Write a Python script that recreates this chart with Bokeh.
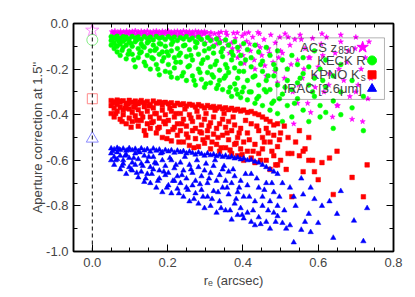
from bokeh.plotting import figure
from bokeh.models import (LinearAxis, Range1d, Label, BoxAnnotation, Span, PrintfTickFormatter,
                          FixedTicker, CustomJSTickFormatter)
from bokeh.embed import file_html
from bokeh.resources import INLINE

# ---------------- data ----------------
acs_x = [0.052,0.060,0.068,0.075,0.083,0.091,0.099,0.106,0.114,0.122,0.130,0.138,0.146,0.154,0.162,0.170,
         0.178,0.186,0.194,0.202,0.210,0.218,0.226,0.234,0.242,0.250,0.258,0.266,0.274,0.282,0.290,0.298,
         0.056,0.064,0.072,0.080,0.088,0.096,0.104,0.112,0.120,0.128,0.136,0.144,0.152,0.160,0.168,0.176,
         0.184,0.192,0.200,0.208,0.216,0.224,0.232,0.240,0.248,0.256,0.264,0.272,0.280,0.288,0.296,
         0.305,0.312,0.318,0.325,0.330,0.336,0.342,0.348,0.352,0.358,0.364,0.370,0.375,0.380,0.386,0.392,
         0.398,0.404,0.410,0.415,0.420,0.426,0.432,0.438,0.444,0.450,0.456,0.462,0.468,0.474,0.480,0.486,
         0.492,0.498,0.505,0.512,0.518,0.525,0.532,0.538,0.545,0.552,0.558,0.565,0.572,0.578,0.585,0.592,
         0.600,0.608,0.615,0.622,0.630,0.638,0.645,0.652,0.660,0.668,0.676,0.684,0.690,0.698,0.706,0.714,
         0.718,0.725,0.732,0.740,0.535,0.580,0.500,0.575,0.545,0.650,0.315,0.335,0.355,0.385,0.405,0.440,
         0.058,0.074,0.090,0.106,0.122,0.138,0.154,0.170,0.186,0.202,0.218,0.234,0.250,0.266,0.282,0.298,
         0.230,0.260,0.285,0.300,0.320,0.340,0.360,0.372,0.388,0.400,0.418,0.430,0.446,0.458,0.470,0.485,
         0.495,0.510,0.528,0.548,0.562,0.590,0.612,0.628,0.655,0.680,0.700,0.735,0.555,0.520,0.610,0.660,0.700]
acs_y = [-0.036,-0.033,-0.038,-0.034,-0.037,-0.033,-0.036,-0.035,-0.032,-0.037,-0.034,-0.036,-0.033,-0.038,-0.035,-0.033,
         -0.037,-0.034,-0.036,-0.033,-0.038,-0.035,-0.034,-0.037,-0.033,-0.036,-0.035,-0.038,-0.034,-0.036,-0.037,-0.035,
         -0.047,-0.050,-0.046,-0.049,-0.052,-0.047,-0.050,-0.046,-0.051,-0.048,-0.045,-0.050,-0.047,-0.052,-0.046,-0.049,
         -0.051,-0.047,-0.045,-0.050,-0.048,-0.052,-0.046,-0.049,-0.053,-0.047,-0.050,-0.055,-0.048,-0.052,-0.046,
         -0.040,-0.055,-0.070,-0.045,-0.090,-0.060,-0.038,-0.110,-0.075,-0.050,-0.130,-0.085,-0.042,-0.065,-0.150,-0.100,
         -0.055,-0.175,-0.078,-0.040,-0.120,-0.060,-0.200,-0.095,-0.045,-0.140,-0.070,-0.230,-0.110,-0.050,-0.170,-0.085,
         -0.260,-0.060,-0.130,-0.045,-0.200,-0.095,-0.300,-0.070,-0.160,-0.050,-0.240,-0.110,-0.350,-0.150,-0.065,-0.280,
         -0.190,-0.090,-0.300,-0.060,-0.220,-0.410,-0.130,-0.360,-0.080,-0.250,-0.170,-0.320,-0.420,-0.110,-0.270,-0.200,
         -0.430,-0.150,-0.330,-0.240,-0.440,-0.390,-0.120,-0.150,-0.350,-0.360,-0.040,-0.042,-0.038,-0.041,-0.044,-0.039,
         -0.042,-0.041,-0.043,-0.041,-0.042,-0.040,-0.043,-0.041,-0.042,-0.040,-0.043,-0.041,-0.042,-0.044,-0.041,-0.043,
         -0.060,-0.065,-0.070,-0.085,-0.100,-0.075,-0.095,-0.110,-0.120,-0.140,-0.090,-0.160,-0.105,-0.185,-0.130,-0.210,
         -0.150,-0.240,-0.180,-0.270,-0.200,-0.230,-0.140,-0.270,-0.200,-0.120,-0.300,-0.080,-0.070,-0.060,-0.045,-0.050,-0.060]

keck_x = [0.050,0.050,0.050,0.058,0.058,0.058,0.066,0.066,0.066,0.066,0.074,0.074,0.074,0.082,0.082,0.082,
          0.090,0.090,0.090,0.098,0.098,0.098,0.106,0.106,0.106,0.114,0.114,0.114,0.122,0.122,0.122,
          0.130,0.130,0.130,0.138,0.138,0.138,0.146,0.146,0.146,0.154,0.154,0.154,0.162,0.162,0.162,
          0.170,0.170,0.170,0.178,0.178,0.178,0.178,0.186,0.186,0.186,0.194,0.194,0.194,0.202,0.202,0.202,
          0.210,0.210,0.210,0.210,0.218,0.218,0.218,0.226,0.226,0.226,0.234,0.234,0.234,0.242,0.242,0.242,
          0.250,0.250,0.250,0.258,0.258,0.258,0.266,0.266,0.266,0.274,0.274,0.274,0.282,0.282,0.282,
          0.290,0.290,0.290,0.298,0.298,0.298,0.306,0.306,0.306,0.314,0.314,0.314,0.322,0.322,0.322,
          0.330,0.330,0.330,0.338,0.338,0.338,0.346,0.346,0.346,0.354,0.354,0.354,0.362,0.362,0.362,
          0.370,0.370,0.370,0.378,0.378,0.378,0.386,0.386,0.386,0.394,0.394,0.394,0.402,0.402,0.402,
          0.412,0.412,0.412,0.422,0.422,0.422,0.432,0.432,0.432,0.442,0.442,0.442,0.452,0.452,0.452,
          0.462,0.462,0.462,0.472,0.472,0.472,0.482,0.482,0.482,0.492,0.492,0.492,0.505,0.505,0.505,
          0.518,0.518,0.518,0.530,0.530,0.530,0.545,0.545,0.545,0.560,0.560,0.560,0.575,0.575,0.575,
          0.590,0.590,0.590,0.605,0.605,0.605,0.620,0.620,0.620,0.640,0.640,0.640,0.660,0.660,0.660,
          0.690,0.690,0.720,0.720,
          0.054,0.062,0.071,0.079,0.087,0.095,0.103,0.110,0.118,0.126,0.134,0.142,0.150,0.158,0.166,0.174,
          0.182,0.190,0.198,0.206,0.214,0.222,0.230,0.238,0.246,0.254,0.262,0.270,0.278,0.286,0.294,0.302,
          0.310,0.318,0.326,0.334,0.342,0.350,0.358,0.366,0.374,0.382,0.390,0.398,0.407,0.417,0.427,0.437,
          0.447,0.457,0.467,0.477,0.487,0.497,0.512,0.537,0.552,0.585,0.612]
keck_y = [-0.058,-0.075,-0.095,-0.062,-0.085,-0.110,-0.056,-0.070,-0.100,-0.125,-0.065,-0.090,-0.140,-0.058,-0.078,-0.105,
          -0.060,-0.095,-0.155,-0.068,-0.082,-0.120,-0.057,-0.100,-0.135,-0.064,-0.080,-0.190,-0.059,-0.110,-0.150,
          -0.070,-0.090,-0.125,-0.058,-0.105,-0.170,-0.066,-0.085,-0.140,-0.060,-0.120,-0.200,-0.072,-0.095,-0.155,
          -0.057,-0.110,-0.180,-0.065,-0.088,-0.135,-0.225,-0.061,-0.125,-0.165,-0.070,-0.100,-0.210,-0.058,-0.140,-0.180,
          -0.066,-0.092,-0.120,-0.235,-0.060,-0.150,-0.195,-0.075,-0.110,-0.240,-0.062,-0.130,-0.170,-0.068,-0.098,-0.215,
          -0.058,-0.145,-0.250,-0.072,-0.115,-0.185,-0.064,-0.160,-0.230,-0.080,-0.105,-0.270,-0.060,-0.135,-0.200,
          -0.070,-0.175,-0.245,-0.090,-0.120,-0.280,-0.062,-0.150,-0.215,-0.075,-0.190,-0.260,-0.100,-0.130,-0.235,
          -0.068,-0.165,-0.285,-0.085,-0.205,-0.250,-0.110,-0.145,-0.290,-0.072,-0.180,-0.230,-0.095,-0.215,-0.300,
          -0.125,-0.160,-0.320,-0.080,-0.195,-0.265,-0.105,-0.240,-0.310,-0.140,-0.175,-0.325,-0.088,-0.210,-0.280,
          -0.115,-0.250,-0.335,-0.150,-0.190,-0.300,-0.095,-0.230,-0.350,-0.125,-0.270,-0.320,-0.165,-0.210,-0.360,
          -0.105,-0.250,-0.300,-0.140,-0.290,-0.380,-0.180,-0.230,-0.340,-0.120,-0.270,-0.395,-0.160,-0.310,-0.430,
          -0.200,-0.250,-0.360,-0.140,-0.290,-0.410,-0.180,-0.330,-0.260,-0.220,-0.380,-0.150,-0.270,-0.430,-0.190,
          -0.240,-0.320,-0.120,-0.360,-0.200,-0.410,-0.390,-0.280,-0.160,-0.460,-0.230,-0.340,-0.300,-0.180,-0.400,
          -0.370,-0.250,-0.470,-0.320,
          -0.068,-0.098,-0.080,-0.118,-0.070,-0.135,-0.088,-0.160,-0.072,-0.130,-0.100,-0.185,-0.078,-0.150,-0.118,-0.200,
          -0.090,-0.150,-0.125,-0.215,-0.080,-0.170,-0.140,-0.230,-0.095,-0.190,-0.140,-0.250,-0.085,-0.215,-0.160,-0.265,
          -0.110,-0.225,-0.180,-0.270,-0.125,-0.240,-0.195,-0.280,-0.140,-0.290,-0.210,-0.300,-0.160,-0.300,-0.235,-0.330,
          -0.180,-0.290,-0.230,-0.350,-0.200,-0.330,-0.280,-0.350,-0.240,-0.300,-0.250]

kpno_x = [0.050,0.050,0.050,0.058,0.058,0.058,0.066,0.066,0.066,0.074,0.074,0.074,0.082,0.082,0.082,
          0.090,0.090,0.090,0.098,0.098,0.098,0.106,0.106,0.106,0.114,0.114,0.114,0.122,0.122,0.122,
          0.130,0.130,0.130,0.138,0.138,0.138,0.146,0.146,0.146,0.154,0.154,0.154,0.162,0.162,0.162,
          0.170,0.170,0.170,0.178,0.178,0.178,0.186,0.186,0.186,0.194,0.194,0.194,0.202,0.202,0.202,
          0.210,0.210,0.210,0.218,0.218,0.218,0.226,0.226,0.226,0.234,0.234,0.234,0.242,0.242,0.242,
          0.250,0.250,0.250,0.258,0.258,0.258,0.266,0.266,0.266,0.274,0.274,0.274,0.282,0.282,0.282,
          0.290,0.290,0.290,0.298,0.298,0.298,0.306,0.306,0.306,0.314,0.314,0.314,0.322,0.322,0.322,
          0.330,0.330,0.330,0.338,0.338,0.338,0.346,0.346,0.346,0.354,0.354,0.354,0.362,0.362,0.362,
          0.370,0.370,0.370,0.378,0.378,0.378,0.386,0.386,0.386,0.394,0.394,0.394,0.402,0.402,0.402,
          0.412,0.412,0.412,0.422,0.422,0.422,0.432,0.432,0.432,0.442,0.442,0.442,0.452,0.452,0.452,
          0.462,0.462,0.462,0.472,0.472,0.472,0.482,0.482,0.482,0.492,0.492,0.492,
          0.500,0.500,0.520,0.520,0.530,0.530,0.550,0.550,0.560,0.560,0.575,0.575,
          0.590,0.600,0.610,0.630,0.640,0.650,0.690,0.720,0.730,
          0.054,0.062,0.071,0.079,0.087,0.095,0.103,0.110,0.118,0.126,0.134,0.142,0.150,0.158,0.166,0.174,
          0.182,0.190,0.198,0.206,0.214,0.222,0.230,0.238,0.246,0.254,0.262,0.270,0.278,0.286,0.294,0.302,
          0.310,0.318,0.326,0.334,0.342,0.350,0.358,0.366,0.374,0.382,0.390,0.398,0.407,0.417,0.427,0.437,
          0.447,0.457,0.467,0.477,0.487,0.497,0.510,0.515,0.540,0.565,0.585]
kpno_y = [-0.338,-0.360,-0.395,-0.342,-0.372,-0.410,-0.336,-0.355,-0.385,-0.345,-0.368,-0.420,-0.339,-0.380,-0.400,
          -0.350,-0.362,-0.440,-0.337,-0.375,-0.415,-0.346,-0.390,-0.430,-0.340,-0.358,-0.405,-0.352,-0.378,-0.450,
          -0.338,-0.395,-0.425,-0.348,-0.365,-0.470,-0.342,-0.385,-0.440,-0.355,-0.410,-0.460,-0.340,-0.370,-0.430,
          -0.350,-0.395,-0.480,-0.344,-0.415,-0.455,-0.358,-0.380,-0.500,-0.346,-0.400,-0.440,-0.352,-0.425,-0.475,
          -0.348,-0.385,-0.515,-0.360,-0.410,-0.455,-0.350,-0.440,-0.490,-0.356,-0.395,-0.470,-0.352,-0.420,-0.520,
          -0.362,-0.450,-0.485,-0.354,-0.400,-0.535,-0.358,-0.430,-0.470,-0.366,-0.460,-0.505,-0.356,-0.410,-0.540,
          -0.362,-0.445,-0.480,-0.370,-0.420,-0.525,-0.360,-0.470,-0.500,-0.368,-0.435,-0.550,-0.364,-0.410,-0.485,
          -0.372,-0.460,-0.530,-0.366,-0.440,-0.560,-0.374,-0.490,-0.420,-0.370,-0.455,-0.545,-0.378,-0.510,-0.430,
          -0.372,-0.470,-0.570,-0.380,-0.445,-0.530,-0.376,-0.500,-0.580,-0.384,-0.460,-0.550,-0.380,-0.520,-0.600,
          -0.390,-0.480,-0.560,-0.386,-0.440,-0.590,-0.395,-0.530,-0.610,-0.400,-0.470,-0.570,-0.410,-0.550,-0.500,
          -0.420,-0.600,-0.460,-0.430,-0.520,-0.640,-0.445,-0.580,-0.490,-0.440,-0.540,-0.620,
          -0.480,-0.600,-0.500,-0.570,-0.570,-0.760,-0.580,-0.470,-0.560,-0.650,-0.500,-0.600,
          -0.650,-0.685,-0.610,-0.590,-0.750,-0.560,-0.675,-0.760,-0.620,
          -0.350,-0.395,-0.340,-0.430,-0.372,-0.352,-0.455,-0.368,-0.425,-0.345,-0.410,-0.490,-0.362,-0.435,-0.395,-0.460,
          -0.348,-0.430,-0.505,-0.372,-0.465,-0.395,-0.520,-0.440,-0.375,-0.500,-0.415,-0.545,-0.385,-0.475,-0.510,-0.395,
          -0.450,-0.520,-0.380,-0.500,-0.545,-0.395,-0.480,-0.555,-0.410,-0.525,-0.480,-0.575,-0.425,-0.510,-0.560,-0.450,
          -0.600,-0.520,-0.480,-0.560,-0.620,-0.510,-0.450,-0.640,-0.520,-0.550,-0.600]

irac_x = [0.050,0.050,0.050,0.058,0.058,0.058,0.066,0.066,0.066,0.074,0.074,0.074,0.082,0.082,0.082,
          0.090,0.090,0.090,0.098,0.098,0.098,0.106,0.106,0.106,0.114,0.114,0.114,0.122,0.122,0.122,
          0.130,0.130,0.130,0.138,0.138,0.138,0.146,0.146,0.146,0.154,0.154,0.154,0.162,0.162,0.162,
          0.170,0.170,0.170,0.178,0.178,0.178,0.186,0.186,0.186,0.194,0.194,0.194,0.202,0.202,0.202,
          0.210,0.210,0.210,0.218,0.218,0.218,0.226,0.226,0.226,0.234,0.234,0.234,0.242,0.242,0.242,
          0.250,0.250,0.250,0.258,0.258,0.258,0.266,0.266,0.266,0.274,0.274,0.274,0.282,0.282,0.282,
          0.290,0.290,0.290,0.298,0.298,0.298,0.306,0.306,0.306,0.314,0.314,0.314,0.322,0.322,0.322,
          0.330,0.330,0.330,0.338,0.338,0.338,0.346,0.346,0.346,0.354,0.354,0.354,0.362,0.362,0.362,
          0.370,0.370,0.370,0.378,0.378,0.378,0.386,0.386,0.386,0.394,0.394,0.394,0.402,0.402,0.402,
          0.412,0.412,0.412,0.422,0.422,0.422,0.432,0.432,0.432,0.442,0.442,0.442,0.452,0.452,0.452,
          0.462,0.462,0.462,0.472,0.472,0.472,0.482,0.482,0.482,0.492,0.492,0.492,
          0.505,0.505,0.525,0.525,0.535,0.535,0.555,0.555,0.560,0.575,0.580,0.580,
          0.600,0.610,0.630,0.640,0.650,0.660,0.695,0.720,0.730,
          0.054,0.062,0.071,0.079,0.087,0.095,0.103,0.110,0.118,0.126,0.134,0.142,0.150,0.158,0.166,0.174,
          0.182,0.190,0.198,0.206,0.214,0.222,0.230,0.238,0.246,0.254,0.262,0.270,0.278,0.286,0.294,0.302,
          0.310,0.318,0.326,0.334,0.342,0.350,0.358,0.366,0.374,0.382,0.390,0.398,0.407,0.417,0.427,0.437,
          0.447,0.457,0.467,0.477,0.487,0.497,0.510,0.515,0.540,0.565,0.590]
irac_y = [-0.548,-0.570,-0.600,-0.552,-0.585,-0.620,-0.546,-0.565,-0.595,-0.555,-0.580,-0.640,-0.549,-0.600,-0.615,
          -0.558,-0.575,-0.660,-0.547,-0.590,-0.630,-0.556,-0.610,-0.645,-0.550,-0.570,-0.620,-0.560,-0.595,-0.675,
          -0.548,-0.615,-0.650,-0.557,-0.580,-0.695,-0.551,-0.605,-0.660,-0.562,-0.630,-0.700,-0.549,-0.585,-0.640,
          -0.558,-0.615,-0.720,-0.553,-0.645,-0.680,-0.565,-0.600,-0.740,-0.555,-0.625,-0.665,-0.561,-0.655,-0.710,
          -0.556,-0.600,-0.745,-0.567,-0.635,-0.690,-0.558,-0.670,-0.725,-0.564,-0.610,-0.700,-0.560,-0.645,-0.760,
          -0.570,-0.680,-0.720,-0.562,-0.620,-0.780,-0.568,-0.655,-0.710,-0.575,-0.690,-0.745,-0.566,-0.630,-0.790,
          -0.572,-0.670,-0.730,-0.580,-0.645,-0.810,-0.570,-0.700,-0.760,-0.578,-0.655,-0.800,-0.574,-0.625,-0.735,
          -0.582,-0.690,-0.830,-0.576,-0.665,-0.780,-0.585,-0.720,-0.640,-0.580,-0.690,-0.820,-0.588,-0.750,-0.650,
          -0.584,-0.700,-0.860,-0.592,-0.670,-0.790,-0.588,-0.740,-0.840,-0.596,-0.690,-0.810,-0.592,-0.760,-0.855,
          -0.600,-0.710,-0.830,-0.598,-0.660,-0.870,-0.606,-0.780,-0.885,-0.610,-0.720,-0.850,-0.620,-0.800,-0.760,
          -0.630,-0.870,-0.700,-0.640,-0.780,-0.900,-0.650,-0.830,-0.740,-0.660,-0.800,-0.845,
          -0.875,-0.700,-0.885,-0.720,-0.760,-0.960,-0.905,-0.680,-0.750,-0.835,-0.720,-0.915,
          -0.875,-0.800,-0.780,-0.940,-0.835,-0.735,-0.865,-0.955,-0.810,
          -0.560,-0.600,-0.552,-0.625,-0.580,-0.555,-0.640,-0.590,-0.655,-0.565,-0.625,-0.680,-0.585,-0.660,-0.610,-0.690,
          -0.570,-0.650,-0.720,-0.590,-0.690,-0.620,-0.745,-0.665,-0.585,-0.730,-0.640,-0.770,-0.600,-0.705,-0.760,-0.615,
          -0.680,-0.770,-0.600,-0.740,-0.810,-0.625,-0.720,-0.820,-0.640,-0.770,-0.720,-0.840,-0.660,-0.760,-0.820,-0.680,
          -0.880,-0.730,-0.820,-0.700,-0.870,-0.760,-0.820,-0.900,-0.800,-0.870,-0.770]

# corrections for a point source (r_e = 0), open symbols on the dashed line
point_x = [0.0, 0.0, 0.0, 0.0]
point_y = [-0.030, -0.072, -0.330, -0.505]

bands = ["ACS z", "KECK R", "KPNO K", "IRAC [3.6\u03bcm]"]
band_sub = ["850", "", "s", ""]
colors = ["#ff00ff", "#00ff00", "#ff0000", "#0000ff"]
light = ["#ff88ff", "#88ee88", "#ff8888", "#8888ff"]
markers = ["star", "circle", "square", "triangle"]

# ---------------- figure ----------------
FONT = "Liberation Sans"
p = figure(width=415, height=297, x_range=Range1d(-0.05, 0.8), y_range=Range1d(-1.0, 0.0),
           output_backend="svg", toolbar_location=None,
           min_border_left=73, min_border_right=22, min_border_top=23, min_border_bottom=46,
           x_axis_label="r\u2091 (arcsec)", y_axis_label="Aperture correction at 1.5''")
p.xgrid.visible = False
p.ygrid.visible = False
p.outline_line_color = "black"
p.outline_line_width = 1.5

xt = FixedTicker(ticks=[0.0, 0.2, 0.4, 0.6, 0.8],
                 minor_ticks=[-0.05 + 0.05 * i for i in range(17)])
yt = FixedTicker(ticks=[-1.0, -0.8, -0.6, -0.4, -0.2, 0.0],
                 minor_ticks=[-1.0 + 0.1 * i for i in range(11)])

def style(ax):
    ax.major_tick_in = 7
    ax.major_tick_out = 0
    ax.minor_tick_in = 4
    ax.minor_tick_out = 0
    ax.axis_line_width = 1.5
    ax.major_tick_line_width = 1
    ax.minor_tick_line_width = 1
    ax.major_label_text_font = FONT
    ax.major_label_text_font_size = "13px"
    ax.axis_label_text_font = FONT
    ax.axis_label_text_font_size = "13px"
    ax.axis_label_text_font_style = "normal"

p.xaxis.ticker = xt
p.yaxis.ticker = yt
style(p.xaxis[0])
style(p.yaxis[0])
p.xaxis.formatter = PrintfTickFormatter(format="%.1f")
p.yaxis.formatter = PrintfTickFormatter(format="%.1f")
p.xaxis.major_label_standoff = 6
p.xaxis.axis_label_standoff = 3
p.yaxis.major_label_standoff = 5
p.yaxis.axis_label_standoff = -2

blank = CustomJSTickFormatter(code="return ''")
top = LinearAxis(ticker=xt, formatter=blank)
style(top)
p.add_layout(top, "above")
right = LinearAxis(ticker=yt, formatter=blank)
style(right)
p.add_layout(right, "right")

# dashed line at r_e = 0
p.add_layout(Span(location=0.0, dimension="height", line_color="black",
                  line_dash="4 3", line_width=1))

# data clouds
p.scatter(acs_x, acs_y, marker="star", size=5.5, color=colors[0], line_width=0.6)
p.scatter(keck_x, keck_y, marker="circle", size=4.8, color=colors[1], line_width=0.5)
p.scatter(kpno_x, kpno_y, marker="square", size=4.6, color=colors[2], line_width=0.5)
p.scatter(irac_x, irac_y, marker="triangle", size=5.4, color=colors[3], line_width=0.5)

# open point-source symbols
sizes0 = [14, 11, 10, 12]
for i in range(4):
    p.scatter([point_x[i]], [point_y[i]], marker=markers[i], size=sizes0[i],
              fill_alpha=0, line_color=light[i], line_width=1)

# legend box (transparent)
p.add_layout(BoxAnnotation(left=0.490, right=0.776, top=-0.063, bottom=-0.333,
                           fill_alpha=0, line_color="black", line_width=1))
leg_y = [-0.104, -0.162, -0.225, -0.286]
leg_text_x = [0.650, 0.726, 0.710, 0.716]
leg_mark_x = [0.718, 0.743, 0.743, 0.743]
leg_size = [12, 9, 8, 9]
for i in range(4):
    p.add_layout(Label(x=leg_text_x[i], y=leg_y[i], text=bands[i], text_align="right",
                       text_baseline="middle", text_font=FONT, text_font_size="13px"))
    if band_sub[i]:
        p.add_layout(Label(x=leg_text_x[i] + 0.003, y=leg_y[i] - 0.014, text=band_sub[i],
                           text_align="left", text_baseline="middle", text_font=FONT,
                           text_font_size="10px"))
    p.scatter([leg_mark_x[i]], [leg_y[i]], marker=markers[i], size=leg_size[i], color=colors[i])

open("out.html", "w").write(file_html(p, INLINE))
